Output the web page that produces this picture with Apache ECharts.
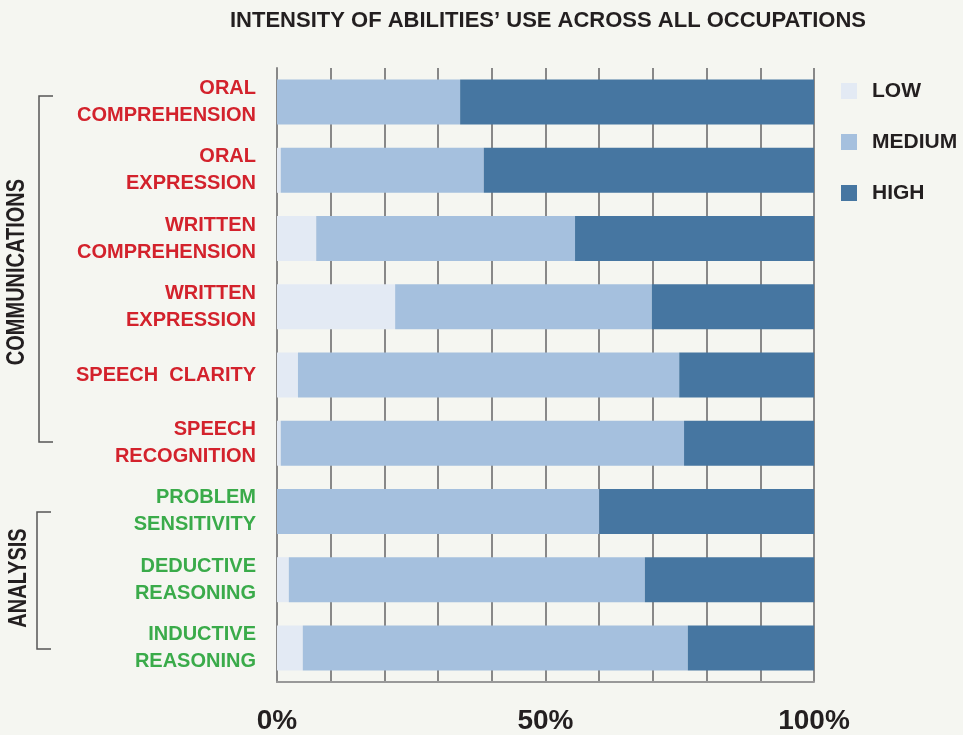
<!DOCTYPE html>
<html>
<head>
<meta charset="utf-8">
<script src="https://cdn.jsdelivr.net/npm/echarts@6/dist/echarts.min.js"></script>
<style>
html,body{margin:0;padding:0;background:#f5f6f1;}
#chart{width:963px;height:735px;}
</style>
</head>
<body>
<div id="chart"></div>
<script>
const categories = [
  'ORAL\nCOMPREHENSION',
  'ORAL\nEXPRESSION',
  'WRITTEN\nCOMPREHENSION',
  'WRITTEN\nEXPRESSION',
  'SPEECH  CLARITY',
  'SPEECH\nRECOGNITION',
  'PROBLEM\nSENSITIVITY',
  'DEDUCTIVE\nREASONING',
  'INDUCTIVE\nREASONING'
];
const groupOfCategory = ['comm','comm','comm','comm','comm','comm','analysis','analysis','analysis'];
const lowValues    = [0,   0.7, 7.3, 22.0, 3.9, 0.7, 0,   2.2, 4.8];
const mediumValues = [34.1,37.8,48.2,47.8, 71.0,75.1,60.0,66.3,71.7];
const highValues   = [65.9,61.5,44.5,30.2, 25.1,24.2,40.0,31.5,23.5];
const xTickLabels = {0:'0%', 50:'50%', 100:'100%'};
const seriesNames = ['LOW','MEDIUM','HIGH'];

const FONT = "'Liberation Sans', Arial, Helvetica, sans-serif";
const colors = ['#e3eaf4','#a5c0de','#4676a1'];
const groupColor = {comm:'#d3222c', analysis:'#3aab4a'};

const chart = echarts.init(document.getElementById('chart'), null, {renderer:'canvas'});
const option = {
  backgroundColor: '#f5f6f1',
  animation: false,
  textStyle: {fontFamily: FONT},
  title: {
    text: 'INTENSITY OF ABILITIES\u2019 USE ACROSS ALL OCCUPATIONS',
    left: 548, top: 10, textAlign: 'center', padding: 0,
    textStyle: {fontFamily: FONT, fontWeight: 'bold', fontSize: 22, color: '#231f20'}
  },
  legend: {
    orient: 'vertical', left: 841, top: 80, padding: 0,
    itemWidth: 16, itemHeight: 16, itemGap: 29,
    icon: 'rect',
    data: seriesNames,
    textStyle: {fontFamily: FONT, fontWeight: 'bold', fontSize: 21, color: '#231f20', lineHeight: 22, padding: [0,0,0,10]}
  },
  grid: {left: 277, right: 149, top: 68, height: 615, containLabel: false},
  xAxis: {
    type: 'value', min: 0, max: 100, interval: 10,
    axisLine: {show: true, lineStyle: {color: '#999', width: 2}},
    axisTick: {show: false},
    splitLine: {show: true, lineStyle: {color: '#888', width: 2}},
    axisLabel: {
      margin: 25, fontFamily: FONT, fontWeight: 'bold', fontSize: 28, color: '#231f20',
      formatter: v => xTickLabels[v] || ''
    }
  },
  yAxis: {
    type: 'category', inverse: true, data: categories,
    axisLine: {show: true, lineStyle: {color: '#888', width: 2}},
    axisTick: {show: false},
    axisLabel: {
      margin: 21, fontFamily: FONT, fontWeight: 'bold', fontSize: 20, lineHeight: 27,
      align: 'right', padding: [8,0,0,0],
      color: (v, i) => groupColor[groupOfCategory[i]]
    }
  },
  series: [lowValues, mediumValues, highValues].map((d, i) => ({
    name: seriesNames[i], type: 'bar', stack: 'total', barWidth: 45,
    itemStyle: {color: colors[i]},
    data: d
  })),
  graphic: [
    {type:'polyline', shape:{points:[[53,96],[39,96],[39,442],[53,442]]}, style:{stroke:'#555', lineWidth:1.5, fill:null}},
    {type:'polyline', shape:{points:[[51,512],[37,512],[37,649],[51,649]]}, style:{stroke:'#555', lineWidth:1.5, fill:null}},
    {type:'text', x:17.5, y:272, rotation: Math.PI/2, scaleX: 0.8,
      style:{text:'COMMUNICATIONS', font:'bold 25px ' + FONT, fill:'#231f20', textAlign:'center', textVerticalAlign:'middle'}},
    {type:'text', x:19, y:578, rotation: Math.PI/2, scaleX: 0.8,
      style:{text:'ANALYSIS', font:'bold 25px ' + FONT, fill:'#231f20', textAlign:'center', textVerticalAlign:'middle'}}
  ]
};
chart.setOption(option);
</script>
</body>
</html>
